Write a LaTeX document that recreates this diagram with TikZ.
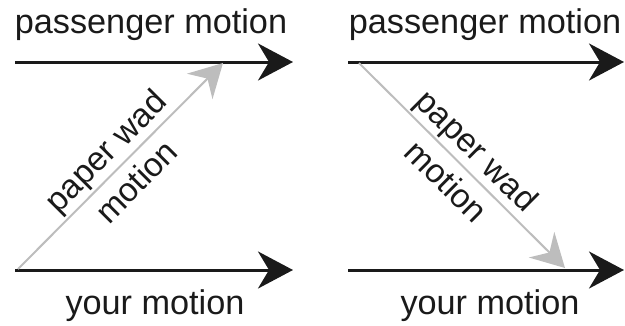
\documentclass[tikz,border=0pt]{standalone}
\usepackage{fontspec}
\setmainfont{Liberation Sans}
\usetikzlibrary{arrows.meta}
\definecolor{wadGray}{HTML}{BDBDBD}
\definecolor{inkBlack}{HTML}{1A1A1A}

\begin{document}
\begin{tikzpicture}[x=0.02cm, y=-0.02cm, font=\fontsize{19.5}{23}\selectfont, text=inkBlack,
  moving/.style={line width=0.06cm, inkBlack, -{Stealth[length=0.7cm, width=0.74cm, inset=0.22cm]}},
  wad/.style={line width=0.04cm, wadGray, -{Stealth[length=0.66cm, width=0.72cm, inset=0.22cm]}},
  wadlabel/.style={midway, sloped, align=center, text=inkBlack, font=\fontsize{19}{25}\selectfont}]
  \useasboundingbox (0,0) rectangle (625,325);
  % Left: paper wad thrown forward
  \begin{scope}[shift={(0,0)}]
    \coordinate (LtopA) at (15,62);  \coordinate (LtopB) at (293,62);
    \coordinate (LbotA) at (15,270); \coordinate (LbotB) at (293,270);
    \coordinate (LwadA) at (18,269); \coordinate (LwadB) at (223,63);
    \node[anchor=base] (Lpass) at (151,33) {passenger motion};
    \node[anchor=base] (Lyou) at (155,314) {your motion};
    \draw[moving] (LtopA) -- (LtopB);
    \draw[moving] (LbotA) -- (LbotB);
    \draw[wad] (LwadA) -- (LwadB) node[wadlabel] (Lwad) {paper wad\\motion};
  \end{scope}
  % Right: paper wad thrown backward
  \begin{scope}[shift={(0,0)}]
    \coordinate (RtopA) at (348,62);  \coordinate (RtopB) at (624,62);
    \coordinate (RbotA) at (348,270); \coordinate (RbotB) at (624,270);
    \coordinate (RwadA) at (359,63);  \coordinate (RwadB) at (565,268);
    \node[anchor=base] (Rpass) at (485,33) {passenger motion};
    \node[anchor=base] (Ryou) at (490,314) {your motion};
    \draw[moving] (RtopA) -- (RtopB);
    \draw[moving] (RbotA) -- (RbotB);
    \draw[wad] (RwadA) -- (RwadB) node[wadlabel] (Rwad) {paper wad\\motion};
  \end{scope}
\end{tikzpicture}
\end{document}
